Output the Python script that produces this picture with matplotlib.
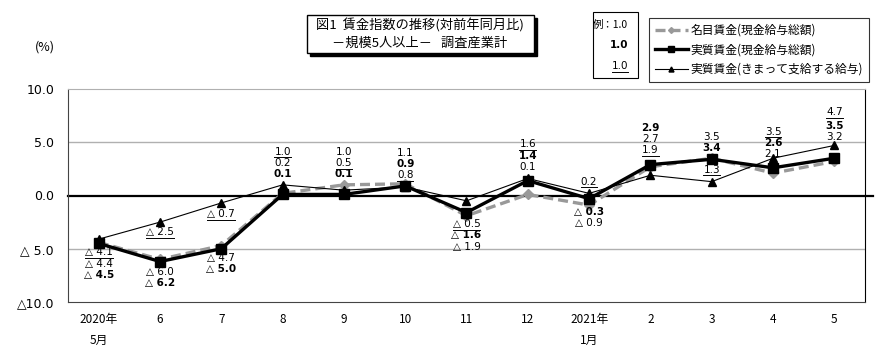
import matplotlib
matplotlib.use("Agg")
import matplotlib.pyplot as plt
from matplotlib.lines import Line2D
from matplotlib.patches import Rectangle

plt.rcParams["font.family"] = ["Noto Sans CJK JP", "DejaVu Sans"]

# data
months = ["2020年\n5月", "6", "7", "8", "9", "10", "11", "12",
          "2021年\n1月", "2", "3", "4", "5"]
nominal = [-4.4, -6.0, -4.7, 0.2, 1.0, 1.1, -1.9, 0.1, -0.9, 2.7, 3.5, 2.1, 3.2]
real_total = [-4.5, -6.2, -5.0, 0.1, 0.1, 0.9, -1.6, 1.4, -0.3, 2.9, 3.4, 2.6, 3.5]
real_contract = [-4.1, -2.5, -0.7, 1.0, 0.5, 0.8, -0.5, 1.6, 0.2, 1.9, 1.3, 3.5, 4.7]
yticks = [10, 5, 0, -5, -10]
yticklabels = ["10.0", "5.0", "0.0", "△ 5.0", "△10.0"]

series = {"n": nominal, "r": real_total, "c": real_contract}

# label layout per month: groups of (top y in data units, series order)
label_layout = [
    [(-5.35, "cnr")],
    [(-3.45, "c"), (-7.2, "nr")],
    [(-1.75, "c"), (-5.85, "nr")],
    [(4.1, "cnr")],
    [(4.1, "ncr")],
    [(4.0, "nrc")],
    [(-2.7, "crn")],
    [(4.8, "crn")],
    [(1.3, "c"), (-1.55, "rn")],
    [(6.35, "rnc")],
    [(5.5, "nr"), (2.4, "c")],
    [(6.0, "crn")],
    [(7.8, "c"), (6.55, "rn")],
]

num_family = ["Liberation Sans Narrow", "DejaVu Sans Condensed", "DejaVu Sans"]

def fmt(v):
    return f"△ {abs(v):.1f}" if v < 0 else f"{v:.1f}"

fig = plt.figure(figsize=(8.9, 3.56), dpi=100)
ax = fig.add_axes([68 / 890, 1 - 302 / 356, (865 - 68) / 890, (302 - 89) / 356])

x = list(range(len(months)))
ln_n, = ax.plot(x, nominal, color="#999999", lw=2.4, ls=(0, (3, 1.5)),
                marker="D", ms=5, mfc="#999999", mec="#999999", zorder=3)
ln_r, = ax.plot(x, real_total, color="black", lw=2.4, marker="s", ms=6.5, zorder=4)
ln_c, = ax.plot(x, real_contract, color="black", lw=0.8, marker="^", ms=6, zorder=5)

ax.set_xlim(-0.5, len(months) - 0.5)
ax.set_ylim(-10, 10)
ax.set_yticks(yticks)
ax.set_yticklabels(yticklabels, fontsize=9, family=["DejaVu Sans"])
ax.set_xticks(x)
ax.set_xticklabels(months, fontsize=8.5, linespacing=1.8)
ax.tick_params(length=0, axis="y", pad=10)
ax.tick_params(length=0, axis="x", pad=8)
for v in (5, -5):
    ax.axhline(v, color="#b0b0b0", lw=1, zorder=1)
ax.axhline(0, color="black", lw=1.6, xmax=1.01, clip_on=False, zorder=2)
ax.spines["top"].set_color("#b0b0b0")
ax.spines["left"].set_color("#444444")
ax.spines["bottom"].set_color("#444444")
ax.spines["right"].set_color("black")

# data labels
row = 1.05
underlined = []
for i, groups in enumerate(label_layout):
    for top, order in groups:
        for k, key in enumerate(order):
            v = series[key][i]
            t = ax.text(i, top - k * row, fmt(v), ha="center", va="center",
                        fontsize=7.5, family=num_family,
                        fontweight="bold" if key == "r" else "normal", zorder=6)
            if key == "c":
                underlined.append(t)

fig.text(45 / 890, 1 - 47 / 356, "(%)", fontsize=9, ha="center", va="center")

# title box with shadow
fig.patches.append(Rectangle((310 / 890, 1 - 56 / 356), 227 / 890, 38 / 356,
                             transform=fig.transFigure, color="black", zorder=1))
fig.patches.append(Rectangle((307 / 890, 1 - 53 / 356), 227 / 890, 38 / 356,
                             transform=fig.transFigure, fc="white", ec="black",
                             lw=1, zorder=2))
fig.text(420 / 890, 1 - 25 / 356, "図1  賃金指数の推移(対前年同月比)",
         fontsize=9.5, ha="center", va="center", zorder=3)
fig.text(420 / 890, 1 - 43 / 356, "－規模5人以上－   調査産業計",
         fontsize=9.5, ha="center", va="center", zorder=3)

# example box
fig.patches.append(Rectangle((593 / 890, 1 - 78 / 356), 45 / 890, 66 / 356,
                             transform=fig.transFigure, fc="white", ec="black", lw=0.8))
fig.text(628 / 890, 1 - 25 / 356, "例：1.0", fontsize=7.5, ha="right", va="center")
fig.text(628 / 890, 1 - 45 / 356, "1.0", fontsize=7.5, ha="right", va="center",
         fontweight="bold", family=num_family)
ex_u = fig.text(628 / 890, 1 - 66 / 356, "1.0", fontsize=7.5, ha="right",
                va="center", family=num_family)
underlined.append(ex_u)

leg = fig.legend([ln_n, ln_r, ln_c],
                 ["名目賃金(現金給与総額)", "実質賃金(現金給与総額)",
                  "実質賃金(きまって支給する給与)"],
                 loc="upper left", bbox_to_anchor=(643 / 890, 1 - 12 / 356),
                 fontsize=8.5, frameon=True, fancybox=False, edgecolor="black",
                 handlelength=2.8, labelspacing=0.55, borderpad=0.5,
                 handletextpad=0.2, markerscale=0.6)
leg.get_frame().set_linewidth(0.8)

# underlines below the contractual-wage labels
fig.canvas.draw()
inv = fig.transFigure.inverted()
for t in underlined:
    bb = t.get_window_extent()
    (x0, y0), (x1, _) = inv.transform([(bb.x0, bb.y0 - 0.5), (bb.x1, bb.y0)])
    fig.add_artist(Line2D([x0, x1], [y0, y0], color="black", lw=0.7,
                          transform=fig.transFigure))

fig.savefig("out.png", dpi=100)
